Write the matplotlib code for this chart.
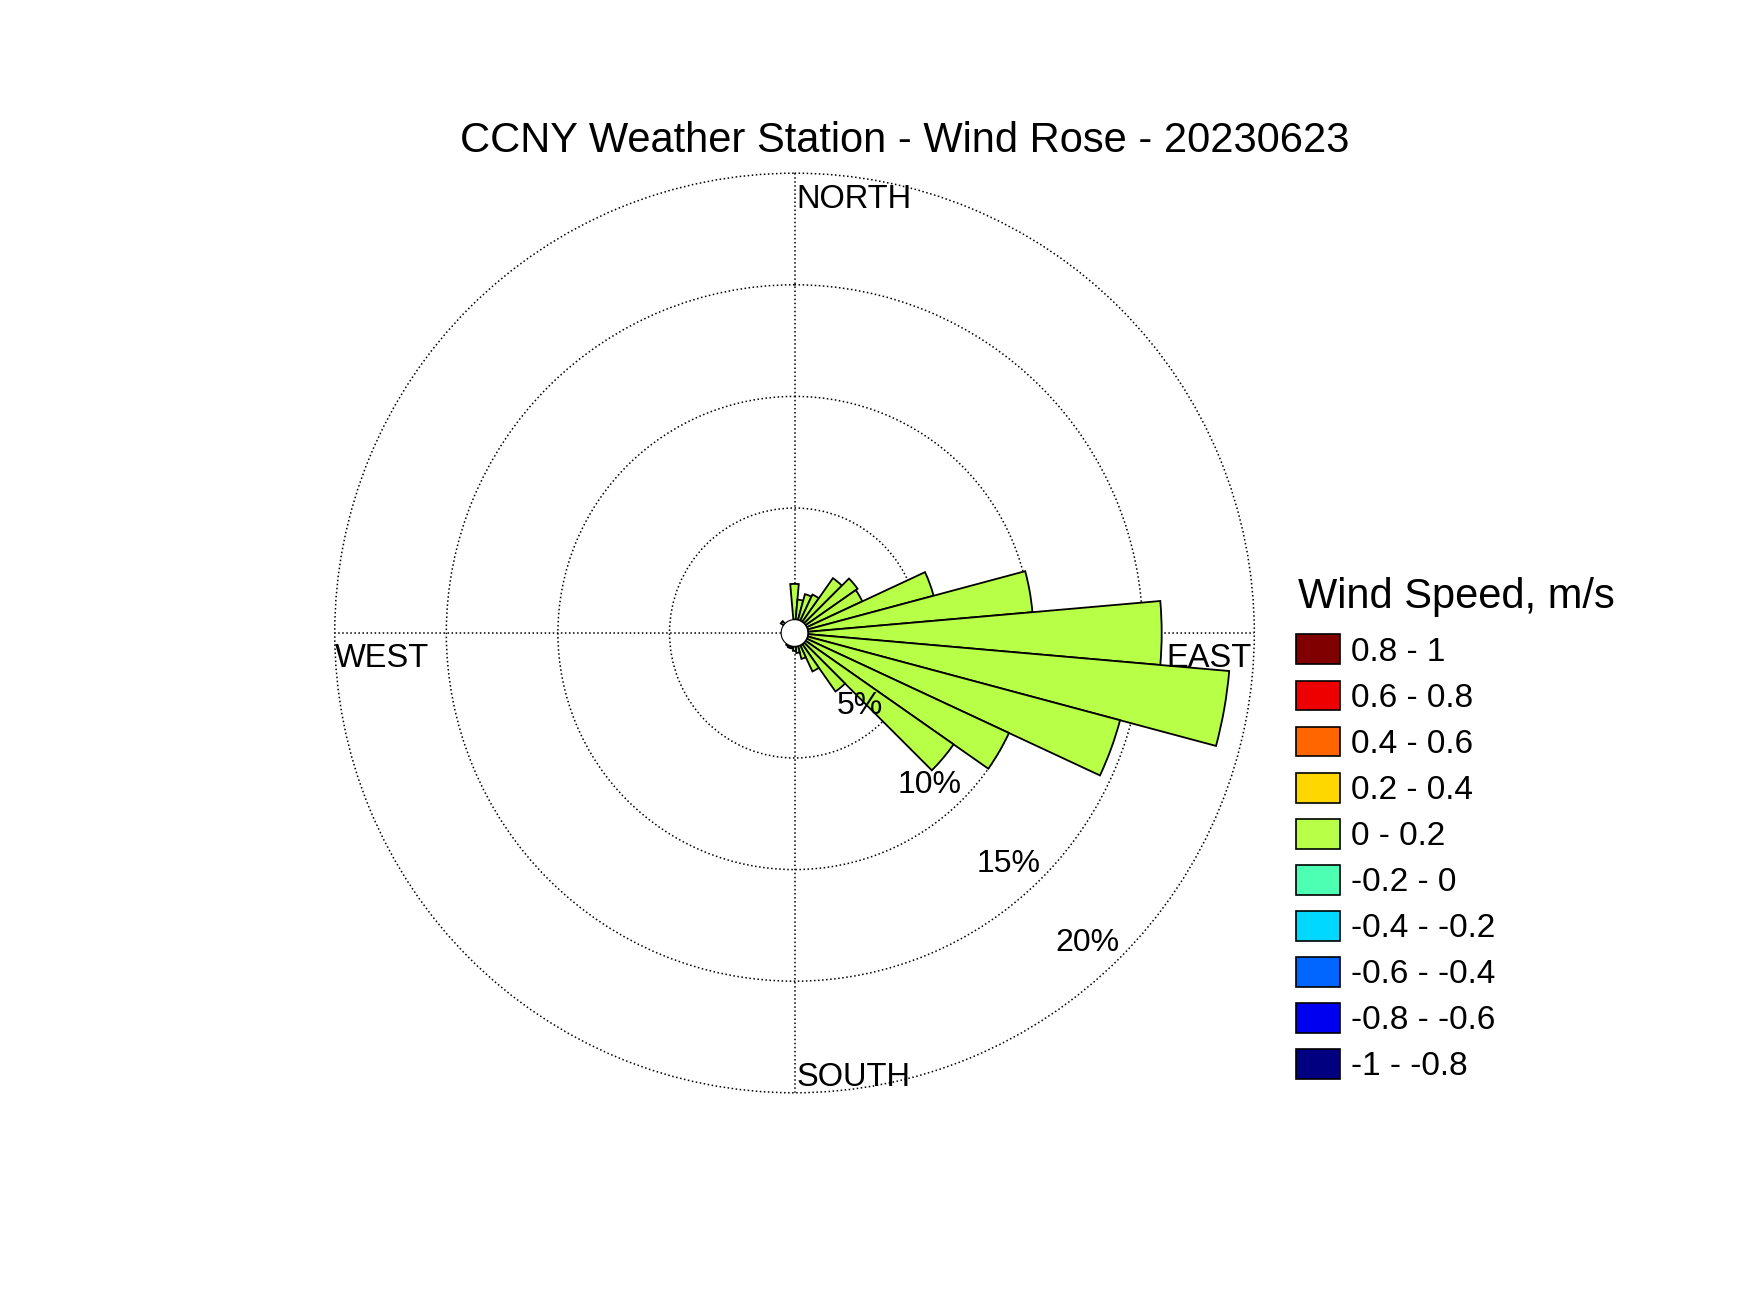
import numpy as np
import matplotlib
matplotlib.use("Agg")
import matplotlib.pyplot as plt
from matplotlib.patches import Patch

plt.rcParams["font.family"] = ["Liberation Sans", "DejaVu Sans"]

# wind direction sectors (deg, clockwise from north) and frequency (%)
directions = np.arange(0, 360, 10)
frequency = np.array([
    1.6, 0.9, 1.2, 1.3, 2.4, 2.85, 2.75, 5.85, 10.1, 15.85,
    18.95, 14.5, 10.0, 8.1, 2.6, 1.3, 0.6, 0.3, 0.2, 0.1,
    0.1, 0.05, 0, 0, 0, 0, 0, 0, 0, 0,
    0, 0.15, 0, 0, 0, 0,
])

# speed classes, listed from lowest to highest
speed_labels = ["-1 - -0.8", "-0.8 - -0.6", "-0.6 - -0.4", "-0.4 - -0.2", "-0.2 - 0",
                "0 - 0.2", "0.2 - 0.4", "0.4 - 0.6", "0.6 - 0.8", "0.8 - 1"]
speed_colors = ["#000080", "#0000f0", "#0066ff", "#00d8ff", "#4dffb2",
                "#b8ff48", "#ffd700", "#ff6600", "#ee0000", "#800000"]
data_class = 5  # every observation falls in "0 - 0.2"

rings = [5, 10, 15, 20]
compass = ["NORTH", "EAST", "SOUTH", "WEST"]

fig = plt.figure(figsize=(17.5, 13.13), dpi=100)
ax = fig.add_axes([0.19126, 0.16771, 0.52549, 0.70038], projection="polar")
ax.set_theta_zero_location("N")
ax.set_theta_direction(-1)
ax.set_ylim(0, 20)
ax.set_rorigin(-0.6)
ax.set_yticks(rings)
ax.set_yticklabels([])
ax.set_xticks(np.deg2rad([0, 90, 180, 270]))
ax.set_xticklabels([])
ax.grid(True, color="black", linestyle=":", linewidth=1.1)
for line in ax.yaxis.get_gridlines():
    line.set_clip_on(False)
ax.spines["polar"].set_visible(False)
ax.spines["inner"].set_visible(False)
ax.set_axisbelow(True)

keep = frequency > 0
ax.bar(np.deg2rad(directions[keep]), frequency[keep], width=np.deg2rad(10),
       bottom=0, color=speed_colors[data_class], edgecolor="black", linewidth=1.3)

# ring labels along the SE diagonal
for r in rings:
    ax.annotate(f"{r}%", xy=(np.deg2rad(135), r), ha="right", va="bottom",
                fontsize=23)

# compass labels
ax.annotate(compass[0], xy=(0, 20), xytext=(1.5, -7.5), textcoords="offset points",
            ha="left", va="top", fontsize=23.5, annotation_clip=False)
ax.annotate(compass[1], xy=(np.pi / 2, 20), xytext=(-2, -7), textcoords="offset points",
            ha="right", va="top", fontsize=23.5, annotation_clip=False)
ax.annotate(compass[2], xy=(np.pi, 20), xytext=(1.5, 0), textcoords="offset points",
            ha="left", va="bottom", fontsize=23.5, annotation_clip=False)
ax.annotate(compass[3], xy=(3 * np.pi / 2, 20), xytext=(0, -7), textcoords="offset points",
            ha="left", va="top", fontsize=23.5, annotation_clip=False)

fig.text(0.517, 0.8842, "CCNY Weather Station - Wind Rose - 20230623",
         ha="center", va="baseline", fontsize=30)

# legend: title as separate text so its gap to the entries can be set freely
fig.text(1298 / 1750, 0.5372, "Wind Speed, m/s", ha="left", va="baseline", fontsize=30)
handles = [Patch(facecolor=c, edgecolor="black", linewidth=1.2) for c in speed_colors[::-1]]
fig.legend(handles, speed_labels[::-1], loc="upper left",
           bbox_to_anchor=(1296 / 1750, (1313 - 634.5) / 1313),
           frameon=False, fontsize=24, handlelength=1.32, handleheight=1.0,
           handletextpad=0.33, labelspacing=0.382, borderpad=0, borderaxespad=0)

fig.savefig("out.png", dpi=100, facecolor="white")
